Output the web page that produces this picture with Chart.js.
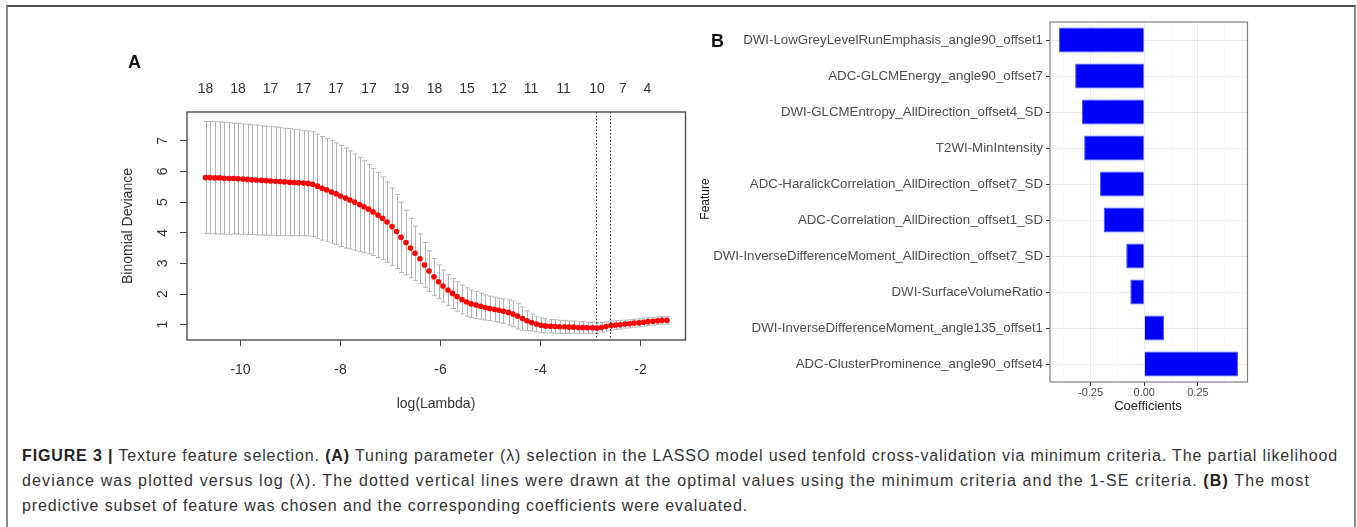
<!DOCTYPE html>
<html>
<head>
<meta charset="utf-8">
<script src="https://cdn.jsdelivr.net/npm/chart.js@4.4.1/dist/chart.umd.min.js"></script>
<style>
  body { margin: 0; background: #fff; font-family: "Liberation Sans", Arial, sans-serif; }
  #page { position: relative; width: 1357px; height: 527px; overflow: hidden; }
  #frame { position: absolute; left: 6px; top: 5px; width: 1346px; height: 540px;
           border-top: 2px solid #4a4a4a; border-left: 2px solid #8c8c8c; border-right: 2px solid #8c8c8c; }
  canvas { position: absolute; }
  .lbl { position: absolute; white-space: nowrap; color: #222; }
  .panel { font-weight: bold; font-size: 18px; color: #111; }
  #caption { position: absolute; left: 22px; top: 443px; font-size: 16px; line-height: 25px; color: #333; white-space: nowrap; }
  #caption span { display: block; }
  #caption b { color: #222; }
</style>
</head>
<body>
<div id="page">
  <div id="frame"></div>
  <canvas id="cvA" width="600" height="400" style="left:100px; top:30px;"></canvas>
  <canvas id="coefB" width="560" height="410" style="left:697px; top:10px;"></canvas>

  <div class="lbl panel" style="left:128px; top:52px;">A</div>
  <div class="lbl panel" style="left:711px; top:31px;">B</div>
  <div class="lbl" style="left:127px; top:226px; font-size:14px; color:#333; transform:translate(-50%,-50%) rotate(-90deg);">Binomial Deviance</div>
  <div class="lbl" style="left:436px; top:403px; font-size:14px; color:#333; transform:translate(-50%,-50%);">log(Lambda)</div>
  <div class="lbl" style="left:705px; top:199px; font-size:12px; color:#1a1a1a; transform:translate(-50%,-50%) rotate(-90deg);">Feature</div>
  <div class="lbl" style="left:1148px; top:405px; font-size:13px; color:#1a1a1a; transform:translate(-50%,-50%);">Coefficients</div>

  <div id="caption">
    <span data-w="1316"><b>FIGURE 3 |</b> Texture feature selection. <b>(A)</b> Tuning parameter (λ) selection in the LASSO model used tenfold cross-validation via minimum criteria. The partial likelihood</span>
    <span data-w="1288">deviance was plotted versus log (λ). The dotted vertical lines were drawn at the optimal values using the minimum criteria and the 1-SE criteria. <b>(B)</b> The most</span>
    <span data-w="726">predictive subset of feature was chosen and the corresponding coefficients were evaluated.</span>
  </div>
</div>

<script>
// panel A: cross-validation curve (log lambda, mean deviance, standard error)
const logLambda = [
  -10.70, -10.61, -10.51, -10.42, -10.33, -10.23, -10.14, -10.05, -9.95, -9.86,
  -9.77, -9.68, -9.58, -9.49, -9.40, -9.30, -9.21, -9.12, -9.02, -8.93,
  -8.84, -8.74, -8.65, -8.56, -8.46, -8.37, -8.28, -8.18, -8.09, -8.00,
  -7.90, -7.81, -7.72, -7.62, -7.53, -7.44, -7.35, -7.25, -7.16, -7.07,
  -6.97, -6.88, -6.79, -6.69, -6.60, -6.51, -6.41, -6.32, -6.23, -6.13,
  -6.04, -5.95, -5.85, -5.76, -5.67, -5.57, -5.48, -5.39, -5.29, -5.20,
  -5.11, -5.02, -4.92, -4.83, -4.74, -4.64, -4.55, -4.46, -4.36, -4.27,
  -4.18, -4.08, -3.99, -3.90, -3.80, -3.71, -3.62, -3.52, -3.43, -3.34,
  -3.24, -3.15, -3.06, -2.96, -2.87, -2.78, -2.69, -2.59, -2.50, -2.41,
  -2.31, -2.22, -2.13, -2.03, -1.94, -1.85, -1.75, -1.66, -1.57, -1.47
];
const cvm = [
  5.80, 5.80, 5.79, 5.79, 5.78, 5.77, 5.77, 5.76, 5.75, 5.74,
  5.73, 5.72, 5.71, 5.70, 5.69, 5.68, 5.67, 5.66, 5.65, 5.64,
  5.63, 5.62, 5.61, 5.58, 5.52, 5.45, 5.40, 5.33, 5.27, 5.20,
  5.13, 5.07, 5.00, 4.92, 4.85, 4.77, 4.68, 4.58, 4.47, 4.35,
  4.20, 4.04, 3.85, 3.68, 3.50, 3.33, 3.15, 2.95, 2.75, 2.56,
  2.40, 2.26, 2.13, 2.02, 1.92, 1.82, 1.74, 1.68, 1.64, 1.60,
  1.56, 1.53, 1.50, 1.47, 1.44, 1.40, 1.35, 1.28, 1.20, 1.13,
  1.07, 1.02, 0.98, 0.96, 0.95, 0.94, 0.93, 0.93, 0.92, 0.92,
  0.91, 0.91, 0.90, 0.90, 0.89, 0.91, 0.94, 0.97, 0.99, 1.00,
  1.02, 1.03, 1.05, 1.06, 1.08, 1.10, 1.11, 1.13, 1.14, 1.14
];
const cvsd = [
  1.83, 1.83, 1.83, 1.83, 1.82, 1.82, 1.81, 1.81, 1.80, 1.80,
  1.79, 1.79, 1.78, 1.78, 1.77, 1.77, 1.76, 1.75, 1.75, 1.74,
  1.73, 1.72, 1.71, 1.71, 1.70, 1.69, 1.68, 1.67, 1.66, 1.65,
  1.63, 1.60, 1.57, 1.54, 1.50, 1.46, 1.42, 1.39, 1.35, 1.31,
  1.26, 1.21, 1.15, 1.05, 0.97, 0.89, 0.81, 0.73, 0.66, 0.60,
  0.55, 0.52, 0.50, 0.49, 0.48, 0.47, 0.46, 0.45, 0.44, 0.42,
  0.41, 0.40, 0.40, 0.39, 0.40, 0.41, 0.42, 0.42, 0.38, 0.32,
  0.27, 0.25, 0.24, 0.23, 0.22, 0.22, 0.21, 0.21, 0.20, 0.20,
  0.19, 0.19, 0.18, 0.18, 0.17, 0.16, 0.15, 0.15, 0.14, 0.14,
  0.13, 0.13, 0.13, 0.13, 0.13, 0.12, 0.12, 0.12, 0.12, 0.12
];
const lambdaMin = -2.89;
const lambda1se = -2.61;
const xTicks = [-10, -8, -6, -4, -2];
const yTicks = [1, 2, 3, 4, 5, 6, 7];
// number of non-zero coefficients printed along the top
const nzeroPos = [-10.70, -10.05, -9.40, -8.74, -8.09, -7.43, -6.78, -6.12, -5.47, -4.83, -4.19, -3.54, -2.87, -2.35, -1.86];
const nzeroLabels = ['18', '18', '17', '17', '17', '17', '19', '18', '15', '12', '11', '11', '10', '7', '4'];

// panel B: coefficients of the selected features
const features = [
  'DWI-LowGreyLevelRunEmphasis_angle90_offset1',
  'ADC-GLCMEnergy_angle90_offset7',
  'DWI-GLCMEntropy_AllDirection_offset4_SD',
  'T2WI-MinIntensity',
  'ADC-HaralickCorrelation_AllDirection_offset7_SD',
  'ADC-Correlation_AllDirection_offset1_SD',
  'DWI-InverseDifferenceMoment_AllDirection_offset7_SD',
  'DWI-SurfaceVolumeRatio',
  'DWI-InverseDifferenceMoment_angle135_offset1',
  'ADC-ClusterProminence_angle90_offset4'
];
const coefs = [-0.397, -0.322, -0.290, -0.280, -0.206, -0.189, -0.084, -0.065, 0.093, 0.437];
const coefGrid = [-0.375, -0.25, -0.125, 0, 0.125, 0.25, 0.375];
const coefMajor = { '-0.25': '-0.25', '0': '0.00', '0.25': '0.25' };

Chart.defaults.font.family = '"Liberation Sans", Arial, sans-serif';

// stretch each caption line to the width it has in the figure
document.querySelectorAll('#caption span').forEach(line => {
  const target = +line.dataset.w;
  const w = line.getBoundingClientRect().width;
  const r = document.createRange();
  r.selectNodeContents(line);
  const textW = r.getBoundingClientRect().width;
  const n = line.textContent.length;
  line.style.letterSpacing = ((target - textW) / n) + 'px';
});

const cvPlot = {
  id: 'cvPlot',
  beforeDatasetsDraw(chart) {
    const { ctx, scales: { x, y } } = chart;
    ctx.save();
    ctx.strokeStyle = '#b3b3b3';
    ctx.lineWidth = 1;
    ctx.beginPath();
    logLambda.forEach((l, i) => {
      const px = Math.round(x.getPixelForValue(l)) + 0.5;
      const up = y.getPixelForValue(cvm[i] + cvsd[i]);
      const lo = y.getPixelForValue(cvm[i] - cvsd[i]);
      ctx.moveTo(px, up); ctx.lineTo(px, lo);
      ctx.moveTo(px - 2.4, up); ctx.lineTo(px + 2.4, up);
      ctx.moveTo(px - 2.4, lo); ctx.lineTo(px + 2.4, lo);
    });
    ctx.stroke();
    ctx.restore();
  },
  afterDatasetsDraw(chart) {
    const { ctx, chartArea: a, scales: { x, y } } = chart;
    ctx.save();
    // dotted lines at lambda.min and lambda.1se
    ctx.strokeStyle = '#333';
    ctx.lineWidth = 1;
    ctx.setLineDash([1.5, 2]);
    [lambdaMin, lambda1se].forEach(v => {
      const px = Math.round(x.getPixelForValue(v)) + 0.5;
      ctx.beginPath(); ctx.moveTo(px, a.top); ctx.lineTo(px, a.bottom); ctx.stroke();
    });
    ctx.setLineDash([]);
    // box
    ctx.strokeStyle = '#4d4d4d';
    ctx.lineWidth = 1.4;
    ctx.strokeRect(a.left, a.top, a.right - a.left, a.bottom - a.top);
    // rotated y tick labels, R style
    ctx.fillStyle = '#333';
    ctx.font = '14px "Liberation Sans", Arial, sans-serif';
    ctx.textAlign = 'center';
    ctx.textBaseline = 'middle';
    yTicks.forEach(v => {
      ctx.save();
      ctx.translate(a.left - 24, y.getPixelForValue(v));
      ctx.rotate(-Math.PI / 2);
      ctx.fillText(String(v), 0, 0);
      ctx.restore();
    });
    ctx.restore();
  }
};

new Chart(document.getElementById('cvA'), {
  type: 'scatter',
  data: {
    datasets: [{
      data: logLambda.map((l, i) => ({ x: l, y: cvm[i] })),
      pointRadius: 2.8,
      pointBackgroundColor: '#ff0000',
      pointBorderWidth: 0
    }]
  },
  options: {
    responsive: false,
    animation: false,
    layout: { padding: { left: 0, right: 14.5, top: 0, bottom: 0 } },
    plugins: { legend: { display: false }, tooltip: { enabled: false } },
    scales: {
      x: {
        type: 'linear', position: 'bottom', min: -11.07, max: -1.10,
        afterBuildTicks: s => { s.ticks = xTicks.map(v => ({ value: v })); },
        afterFit: s => { s.height = 90; },
        grid: { drawOnChartArea: false, drawTicks: true, tickLength: 6, tickColor: '#444' },
        border: { display: false },
        ticks: { font: { size: 14 }, color: '#333', padding: 16, maxRotation: 0 }
      },
      xTop: {
        type: 'linear', position: 'top', min: -11.07, max: -1.10,
        afterBuildTicks: s => { s.ticks = nzeroPos.map(v => ({ value: v })); },
        afterFit: s => { s.height = 82; },
        grid: { display: false, drawTicks: false },
        border: { display: false },
        ticks: { font: { size: 14 }, color: '#333', padding: 14, maxRotation: 0, autoSkip: false,
                 callback: (v, i) => nzeroLabels[i] }
      },
      y: {
        type: 'linear', min: 0.5, max: 7.94,
        afterBuildTicks: s => { s.ticks = yTicks.map(v => ({ value: v })); },
        afterFit: s => { s.width = 87; },
        grid: { drawOnChartArea: false, drawTicks: true, tickLength: 7, tickColor: '#444' },
        border: { display: false },
        ticks: { display: false }
      }
    }
  },
  plugins: [cvPlot]
});

const panelBox = {
  id: 'panelBox',
  afterDraw(chart) {
    const { ctx, chartArea: a } = chart;
    ctx.save();
    ctx.strokeStyle = '#808080';
    ctx.lineWidth = 1.2;
    ctx.strokeRect(a.left, a.top, a.right - a.left, a.bottom - a.top);
    ctx.restore();
  }
};

const isMajor = v => coefMajor[String(v)] !== undefined;

new Chart(document.getElementById('coefB'), {
  type: 'bar',
  data: {
    labels: features,
    datasets: [{
      data: coefs,
      backgroundColor: '#0000ff',
      borderColor: '#4060ff',
      borderWidth: 1,
      barPercentage: 0.7,
      categoryPercentage: 1
    }]
  },
  options: {
    indexAxis: 'y',
    responsive: false,
    animation: false,
    layout: { padding: { left: 0, right: 9.5, top: 12, bottom: 0 } },
    plugins: { legend: { display: false }, tooltip: { enabled: false } },
    scales: {
      x: {
        type: 'linear', min: -0.439, max: 0.481,
        afterBuildTicks: s => { s.ticks = coefGrid.map(v => ({ value: v })); },
        afterFit: s => { s.height = 38; },
        grid: {
          color: c => isMajor(c.tick.value) ? '#ebebeb' : '#f5f5f5',
          lineWidth: c => isMajor(c.tick.value) ? 1 : 0.6,
          tickLength: 4,
          tickColor: c => isMajor(c.tick.value) ? '#333' : 'rgba(0,0,0,0)'
        },
        border: { display: false },
        ticks: { font: { size: 11 }, color: '#4d4d4d', padding: 0, maxRotation: 0, autoSkip: false,
                 callback: v => coefMajor[String(v)] || '' }
      },
      y: {
        afterFit: s => { s.width = 353; },
        grid: { offset: false, color: '#ebebeb', tickLength: 4, tickColor: '#333' },
        border: { display: false },
        ticks: { font: { size: 13.3 }, color: '#4d4d4d', padding: 3, autoSkip: false }
      }
    }
  },
  plugins: [panelBox]
});
</script>
</body>
</html>
